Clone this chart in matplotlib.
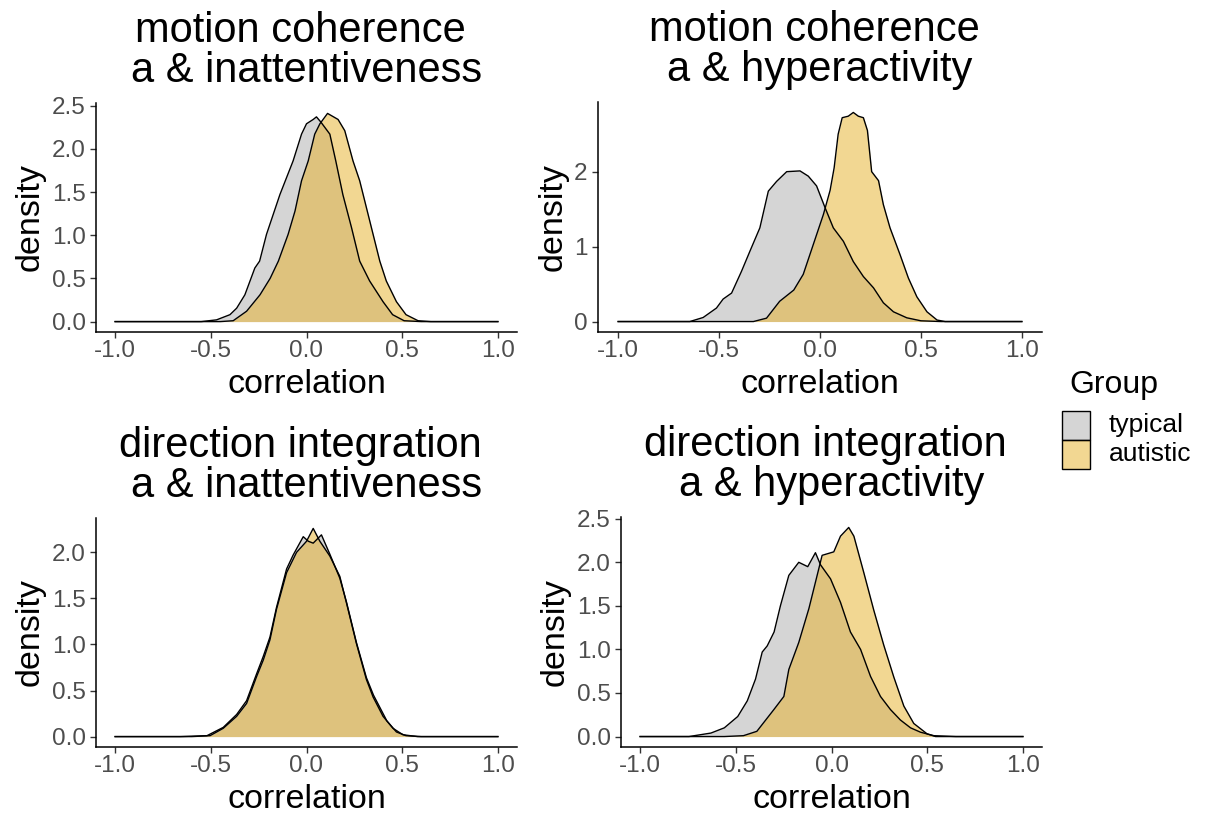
import matplotlib
matplotlib.use("Agg")
import matplotlib.pyplot as plt
from matplotlib.colors import to_rgba
from matplotlib.patches import Rectangle

plt.rcParams['font.family'] = ['Liberation Sans', 'DejaVu Sans']

# densidades das correlações (a posteriori), por grupo
mc_inatt_typ_x = [-1.0, -0.55, -0.47, -0.40, -0.365, -0.322, -0.27, -0.245, -0.209, -0.139, -0.07, -0.026,
                  0.0, 0.035, 0.052, 0.075, 0.122, 0.153, 0.19, 0.235, 0.278, 0.33, 0.40, 0.45, 0.51, 0.6, 1.0]
mc_inatt_typ_y = [0, 0, 0.02, 0.08, 0.155, 0.31, 0.62, 0.70, 1.01, 1.47, 1.86, 2.17,
                  2.29, 2.34, 2.37, 2.31, 2.17, 1.86, 1.47, 1.09, 0.70, 0.47, 0.23, 0.08, 0.01, 0, 0]
mc_inatt_aut_x = [-1.0, -0.45, -0.383, -0.313, -0.243, -0.19, -0.147, -0.096, -0.06, -0.026, 0.009, 0.043,
                  0.07, 0.11, 0.165, 0.2, 0.243, 0.278, 0.313, 0.348, 0.383, 0.417, 0.47, 0.52, 0.583, 0.65, 1.0]
mc_inatt_aut_y = [0, 0, 0.01, 0.12, 0.31, 0.50, 0.70, 1.01, 1.28, 1.63, 1.86, 2.17,
                  2.29, 2.41, 2.34, 2.21, 1.86, 1.63, 1.32, 1.01, 0.70, 0.47, 0.23, 0.08, 0.01, 0, 0]

mc_hyper_typ_x = [-1.0, -0.645, -0.579, -0.513, -0.48, -0.438, -0.389, -0.347, -0.298, -0.256, -0.215, -0.165,
                  -0.099, -0.058, -0.017, 0.025, 0.066, 0.116, 0.165, 0.215, 0.265, 0.314, 0.364, 0.43, 0.5, 0.6, 1.0]
mc_hyper_typ_y = [0, 0, 0.054, 0.18, 0.30, 0.38, 0.67, 0.94, 1.25, 1.74, 1.87, 2.00,
                  2.01, 1.94, 1.81, 1.52, 1.25, 1.07, 0.80, 0.60, 0.45, 0.25, 0.13, 0.05, 0.01, 0, 0]
mc_hyper_aut_x = [-1.0, -0.33, -0.265, -0.2, -0.13, -0.083, -0.033, 0.017, 0.05, 0.07, 0.09, 0.11, 0.14,
                  0.165, 0.19, 0.215, 0.235, 0.256, 0.29, 0.314, 0.347, 0.397, 0.438, 0.48, 0.53, 0.58, 0.62, 1.0]
mc_hyper_aut_y = [0, 0, 0.045, 0.27, 0.42, 0.63, 1.03, 1.43, 1.75, 2.05, 2.5, 2.72, 2.74,
                  2.79, 2.74, 2.72, 2.55, 2.0, 1.88, 1.56, 1.25, 0.89, 0.58, 0.33, 0.13, 0.02, 0, 0]

di_inatt_typ_x = [-1.0, -0.66, -0.52, -0.435, -0.365, -0.313, -0.261, -0.226, -0.191, -0.157, -0.104, -0.07,
                  -0.017, 0.01, 0.035, 0.078, 0.122, 0.174, 0.209, 0.261, 0.313, 0.35, 0.38, 0.42, 0.47, 0.52, 0.6, 1.0]
di_inatt_typ_y = [0, 0, 0.01, 0.10, 0.24, 0.39, 0.68, 0.87, 1.08, 1.40, 1.82, 1.97,
                  2.17, 2.12, 2.10, 2.19, 1.98, 1.72, 1.46, 1.02, 0.64, 0.45, 0.33, 0.17, 0.05, 0.01, 0, 0]
di_inatt_aut_x = [-1.0, -0.6, -0.504, -0.435, -0.365, -0.313, -0.261, -0.226, -0.191, -0.157, -0.104, -0.052,
                  0.0, 0.035, 0.07, 0.122, 0.174, 0.209, 0.261, 0.313, 0.348, 0.40, 0.452, 0.504, 0.58, 1.0]
di_inatt_aut_y = [0, 0, 0.01, 0.09, 0.22, 0.36, 0.65, 0.83, 1.05, 1.38, 1.78, 2.00,
                  2.12, 2.26, 2.12, 1.96, 1.74, 1.45, 1.01, 0.62, 0.43, 0.22, 0.09, 0.02, 0, 0]

di_hyper_typ_x = [-1.0, -0.745, -0.63, -0.56, -0.49, -0.44, -0.397, -0.362, -0.336, -0.30, -0.267, -0.223,
                  -0.171, -0.124, -0.084, -0.057, -0.005, 0.047, 0.099, 0.152, 0.204, 0.256, 0.308, 0.36,
                  0.413, 0.465, 0.535, 0.65, 1.0]
di_hyper_typ_y = [0, 0, 0.04, 0.10, 0.23, 0.41, 0.66, 0.97, 1.04, 1.20, 1.50, 1.85,
                  2.00, 1.95, 2.11, 1.97, 1.81, 1.54, 1.20, 1.00, 0.69, 0.46, 0.31, 0.19,
                  0.10, 0.05, 0.01, 0, 0]
di_hyper_aut_x = [-1.0, -0.56, -0.46, -0.39, -0.301, -0.249, -0.223, -0.171, -0.118, -0.075, -0.049, 0.012,
                  0.047, 0.09, 0.117, 0.169, 0.221, 0.273, 0.326, 0.378, 0.43, 0.5, 0.544, 1.0]
di_hyper_aut_y = [0, 0, 0.01, 0.06, 0.31, 0.46, 0.77, 1.08, 1.47, 1.85, 2.08, 2.12,
                  2.30, 2.40, 2.30, 1.88, 1.45, 1.05, 0.68, 0.35, 0.15, 0.03, 0, 0]

titulos = [("motion coherence", "a & inattentiveness"),
           ("motion coherence", "a & hyperactivity"),
           ("direction integration", "a & inattentiveness"),
           ("direction integration", "a & hyperactivity")]
paineis = [
    (mc_inatt_typ_x, mc_inatt_typ_y, mc_inatt_aut_x, mc_inatt_aut_y),
    (mc_hyper_typ_x, mc_hyper_typ_y, mc_hyper_aut_x, mc_hyper_aut_y),
    (di_inatt_typ_x, di_inatt_typ_y, di_inatt_aut_x, di_inatt_aut_y),
    (di_hyper_typ_x, di_hyper_typ_y, di_hyper_aut_x, di_hyper_aut_y),
]
yticks = [[0, 0.5, 1.0, 1.5, 2.0, 2.5], [0, 1, 2], [0, 0.5, 1.0, 1.5, 2.0], [0, 0.5, 1.0, 1.5, 2.0, 2.5]]
yfmt = ["{:.1f}", "{:.0f}", "{:.1f}", "{:.1f}"]
xticks = [-1.0, -0.5, 0.0, 0.5, 1.0]

grupos = ["typical", "autistic"]
cores = ["#ADADAD", "#E7B127"]

W, H = 1205, 818
fig = plt.figure(figsize=(W / 100, H / 100), dpi=100)


def caixa(l, t, r, b):
    # caixa em pixels -> fração da figura
    return [l / W, 1 - b / H, (r - l) / W, (b - t) / H]


caixas = [caixa(96, 103, 517, 332), caixa(598, 102, 1042, 332),
          caixa(96, 518, 517, 747), caixa(621, 517, 1042, 747)]

for i, (xt, yt, xa, ya) in enumerate(paineis):
    ax = fig.add_axes(caixas[i])
    ax.fill_between(xt, yt, color=cores[0], alpha=0.5, lw=0)
    ax.plot(xt, yt, color="black", lw=1.0)
    ax.fill_between(xa, ya, color=cores[1], alpha=0.5, lw=0)
    ax.plot(xa, ya, color="black", lw=1.0)

    ymax = max(max(yt), max(ya))
    ax.set_xlim(-1.1, 1.1)
    ax.set_ylim(-0.05 * ymax, 1.05 * ymax)
    ax.set_xticks(xticks)
    ax.set_xticklabels(["{:.1f}".format(v) for v in xticks])
    ax.set_yticks(yticks[i])
    ax.set_yticklabels([yfmt[i].format(v) for v in yticks[i]])

    for s in ["top", "right"]:
        ax.spines[s].set_visible(False)
    for s in ["left", "bottom"]:
        ax.spines[s].set_linewidth(1.1)
    ax.tick_params(axis="both", length=4.5, width=1.0, color="#333333", labelcolor="#4D4D4D", labelsize=17.5)
    ax.tick_params(axis="x", pad=1.5)
    ax.tick_params(axis="y", pad=3.0)
    ax.set_xlabel("correlation", fontsize=24.5, labelpad=5)
    ax.set_ylabel("density", fontsize=24.5, labelpad=4)

    # título em duas linhas
    l1, l2 = titulos[i]
    ax.annotate(l1, xy=(0.5, 1.0), xycoords="axes fraction", xytext=(-4.3, 44),
                textcoords="offset points", ha="center", va="baseline", fontsize=30)
    ax.annotate(l2, xy=(0.5, 1.0), xycoords="axes fraction", xytext=(0, 15),
                textcoords="offset points", ha="center", va="baseline", fontsize=30)

# legenda desenhada à mão (caixas coladas, estilo ggplot)
fig.text(1069 / W, 1 - 393 / H, "Group", fontsize=23, ha="left", va="baseline")
for k, (g, c) in enumerate(zip(grupos, cores)):
    topo = 411 + 29 * k
    fig.add_artist(Rectangle((1062 / W, 1 - (topo + 29) / H), 28 / W, 29 / H,
                             transform=fig.transFigure, facecolor=to_rgba(c, 0.5),
                             edgecolor="black", lw=1.0))
    fig.text(1109 / W, 1 - (topo + 21) / H, g, fontsize=19, ha="left", va="baseline")

fig.savefig("out.png", dpi=100)
